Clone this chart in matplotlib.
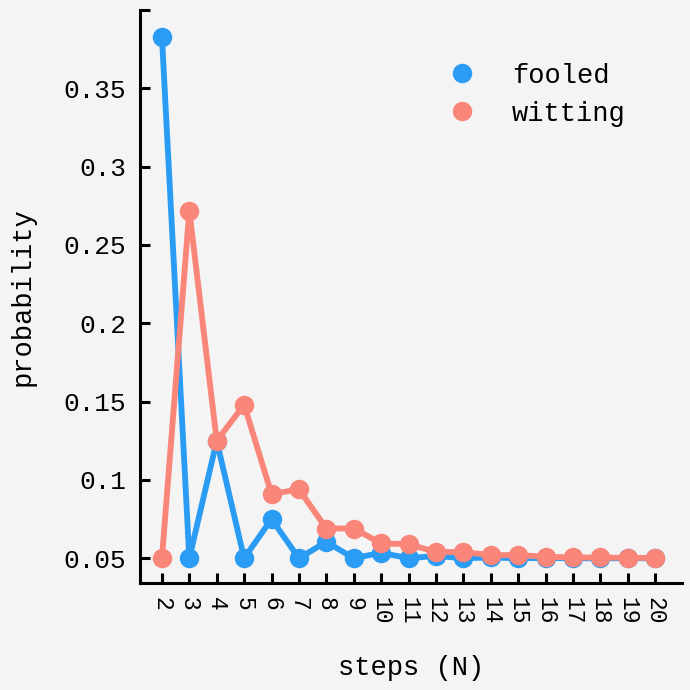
import numpy as np
import matplotlib
matplotlib.use("Agg")
import matplotlib.pyplot as plt
from matplotlib.lines import Line2D

## data
steps = list(range(2, 21))
fooled = [0.383, 0.05, 0.125, 0.05, 0.075, 0.05, 0.0605, 0.05, 0.0535, 0.05,
          0.0515, 0.05, 0.0505, 0.05, 0.0502, 0.05, 0.05, 0.05, 0.05]
witting = [0.05, 0.272, 0.125, 0.148, 0.091, 0.094, 0.069, 0.069, 0.0595, 0.059,
           0.054, 0.054, 0.052, 0.052, 0.051, 0.0505, 0.0505, 0.0503, 0.0502]
ytick_vals = [0.05, 0.1, 0.15, 0.2, 0.25, 0.3, 0.35, 0.4]
ytick_labels = ["0.05", "0.1", "0.15", "0.2", "0.25", "0.3", "0.35", ""]

blue = "#2b9cf4"
salmon = "#fa8579"
bg = "#f4f4f4"

plt.rcParams["font.family"] = ["Liberation Mono", "DejaVu Sans Mono"]

fig = plt.figure(figsize=(6.9, 6.9), dpi=100, facecolor=bg)
ax = fig.add_axes([0.2029, 0.1546, 0.988 - 0.2029, 0.9855 - 0.1546])
ax.set_facecolor(bg)

ax.plot(steps, fooled, color=blue, lw=4.2, marker="o", ms=13, zorder=3)
ax.plot(steps, witting, color=salmon, lw=4.2, marker="o", ms=13, zorder=4)

ax.set_xlim(1.2, 20.97)
ax.set_ylim(0.034, 0.4)
ax.set_xticks(steps)
ax.set_xticklabels([str(s) for s in steps], rotation=270, ha="center", va="top", fontsize=16.5)
ax.set_yticks(ytick_vals)
ax.set_yticklabels(ytick_labels, fontsize=18.8)

ax.tick_params(direction="in", length=7.2, width=2.2, pad=10, color="black")
for side in ["top", "right"]:
    ax.spines[side].set_visible(False)
for side in ["left", "bottom"]:
    ax.spines[side].set_linewidth(2.2)

ax.set_xlabel("steps (N)", fontsize=19.5, labelpad=22)
ax.set_ylabel("probability", fontsize=19.5, labelpad=20)

handles = [Line2D([], [], ls="none", marker="o", ms=13, color=blue),
           Line2D([], [], ls="none", marker="o", ms=13, color=salmon)]
ax.legend(handles, ["fooled", "witting"], loc="upper left", bbox_to_anchor=(0.519, 0.932),
          frameon=False, fontsize=19.5, handletextpad=0.85, labelspacing=0.45, borderpad=0)

fig.savefig("out.png", dpi=100, facecolor=bg)
